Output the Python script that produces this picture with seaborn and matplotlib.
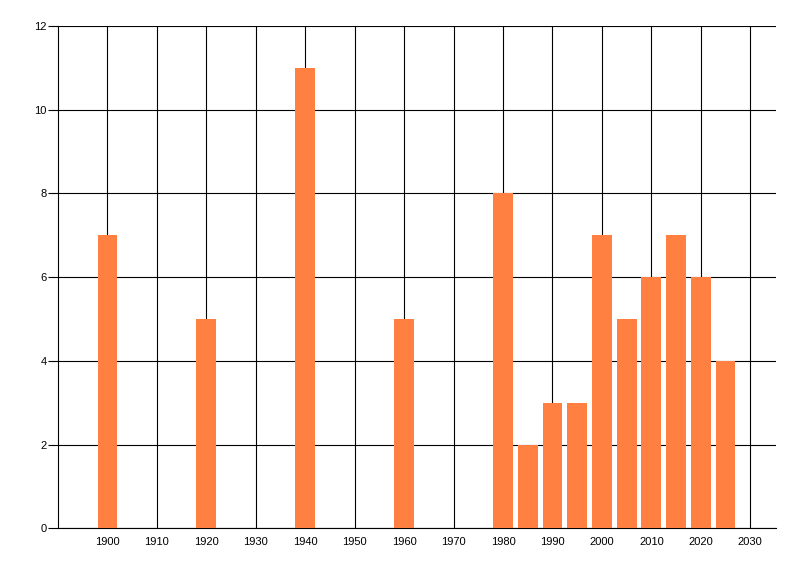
import matplotlib
matplotlib.use("Agg")
import matplotlib.pyplot as plt
import seaborn as sns
import pandas as pd

years = [1900, 1920, 1940, 1960, 1980, 1985, 1990, 1995, 2000, 2005, 2010, 2015, 2020, 2025]
counts = [7, 5, 11, 5, 8, 2, 3, 3, 7, 5, 6, 7, 6, 4]
x_ticks = list(range(1900, 2031, 10))
y_ticks = [0, 2, 4, 6, 8, 10, 12]

sns.set_style("white")
plt.rcParams['font.family'] = ['Liberation Sans', 'DejaVu Sans']

df = pd.DataFrame({"year": years, "count": counts})

fig = plt.figure(figsize=(8, 5.76), dpi=100)
ax = fig.add_axes([58/800, 1 - 528.3/576, (776 - 58)/800, (528.3 - 26)/576])

sns.barplot(data=df, x="year", y="count", native_scale=True, width=0.8,
            color="#FF8040", saturation=1, linewidth=0, ax=ax, zorder=3)

ax.set_xlim(1890.0, 2035.2)
ax.set_ylim(0, 12)
ax.set_xticks(x_ticks)
ax.set_xticklabels([str(t) for t in x_ticks])
ax.set_yticks(y_ticks)
ax.set_yticklabels([str(t) for t in y_ticks])
ax.set_xlabel("")
ax.set_ylabel("")

ax.grid(True, color="black", linewidth=0.8)
ax.set_axisbelow(True)
for s in ["top", "right"]:
    ax.spines[s].set_visible(False)
for s in ["left", "bottom"]:
    ax.spines[s].set_color("black")
    ax.spines[s].set_linewidth(0.8)

ax.tick_params(axis="x", length=0, pad=6, labelsize=8, colors="black")
ax.tick_params(axis="y", length=7, width=0.8, pad=1, labelsize=8, colors="black", left=True)

fig.savefig("out.png", dpi=100)
